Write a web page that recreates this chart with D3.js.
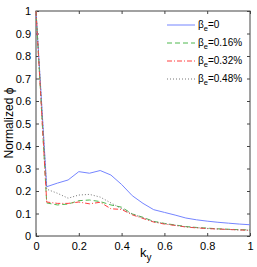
<!DOCTYPE html>
<html lang="en">
<head>
<meta charset="UTF-8">
<title>Normalized phi vs ky</title>
<script src="https://d3js.org/d3.v7.min.js"></script>
<style>
  body { margin: 0; background: #fff; }
  text { font-family: Arial, "Liberation Sans", sans-serif; }
</style>
</head>
<body>
<svg id="chart" width="257" height="267"></svg>
<script>
// ky values shared by all series
const ky = [0, 0.05, 0.1, 0.15, 0.2, 0.25, 0.3, 0.35, 0.4, 0.45, 0.5, 0.55, 0.6, 0.65, 0.7, 0.75, 0.8, 0.85, 0.9, 0.95, 1];

const beta0   = [1, 0.219, 0.235, 0.249, 0.286, 0.279, 0.291, 0.271, 0.229, 0.179, 0.145, 0.117, 0.105, 0.093, 0.08, 0.072, 0.066, 0.061, 0.057, 0.053, 0.05];
const beta016 = [1, 0.147, 0.138, 0.142, 0.157, 0.16, 0.153, 0.138, 0.128, 0.098, 0.083, 0.065, 0.056, 0.049, 0.042, 0.038, 0.035, 0.032, 0.03, 0.028, 0.027];
const beta032 = [1, 0.151, 0.145, 0.145, 0.151, 0.143, 0.15, 0.121, 0.118, 0.094, 0.078, 0.062, 0.053, 0.047, 0.04, 0.036, 0.033, 0.031, 0.029, 0.027, 0.025];
const beta048 = [1, 0.208, 0.19, 0.168, 0.182, 0.185, 0.173, 0.147, 0.122, 0.097, 0.081, 0.064, 0.055, 0.048, 0.041, 0.037, 0.034, 0.031, 0.029, 0.027, 0.026];

const legendLabels = ["0", "0.16%", "0.32%", "0.48%"];
const xTicks = [0, 0.2, 0.4, 0.6, 0.8, 1];
const yTicks = [0, 0.1, 0.2, 0.3, 0.4, 0.5, 0.6, 0.7, 0.8, 0.9, 1];

const series = [
  { vals: beta0,   color: "#7585ff", dash: null,      width: 1 },
  { vals: beta016, color: "#4fb84f", dash: "5,3",     width: 1 },
  { vals: beta032, color: "#ff4040", dash: "5,2,1,2", width: 1 },
  { vals: beta048, color: "#777777", dash: "1,2",     width: 1 }
];

const svg = d3.select("#chart");
const mLeft = 36, mRight = 250, mTop = 11, mBottom = 236;

const x = d3.scaleLinear().domain([0, 1]).range([mLeft, mRight]);
const y = d3.scaleLinear().domain([0, 1]).range([mBottom, mTop]);

// frame
svg.append("rect")
  .attr("x", mLeft).attr("y", mTop)
  .attr("width", mRight - mLeft).attr("height", mBottom - mTop)
  .attr("fill", "none").attr("stroke", "#444").attr("stroke-width", 1);

// axes with inward ticks
const fmt = d => d === 0 || d === 1 ? String(d) : d3.format(".1f")(d);
const styleAxis = g => {
  g.select(".domain").remove();
  g.selectAll(".tick line").attr("stroke", "#444");
  g.selectAll(".tick text").attr("font-size", 11).attr("fill", "#000");
};
svg.append("g").attr("transform", `translate(0,${mBottom})`)
  .call(d3.axisBottom(x).tickValues(xTicks).tickFormat(fmt).tickSizeInner(-3).tickSizeOuter(0).tickPadding(6))
  .call(styleAxis);
svg.append("g").attr("transform", `translate(0,${mTop})`)
  .call(d3.axisTop(x).tickValues(xTicks).tickFormat("").tickSizeInner(-3).tickSizeOuter(0))
  .call(styleAxis);
svg.append("g").attr("transform", `translate(${mLeft},0)`)
  .call(d3.axisLeft(y).tickValues(yTicks).tickFormat(fmt).tickSizeInner(-3).tickSizeOuter(0).tickPadding(5))
  .call(styleAxis);
svg.append("g").attr("transform", `translate(${mRight},0)`)
  .call(d3.axisRight(y).tickValues(yTicks).tickFormat("").tickSizeInner(-3).tickSizeOuter(0))
  .call(styleAxis);

// lines
const line = d3.line().x((d, i) => x(ky[i])).y(d => y(d));
series.forEach(s => {
  svg.append("path")
    .datum(s.vals)
    .attr("d", line)
    .attr("fill", "none")
    .attr("stroke", s.color)
    .attr("stroke-width", s.width)
    .attr("stroke-dasharray", s.dash);
});

// legend
const leg = svg.append("g");
series.forEach((s, i) => {
  const ly = 25 + i * 18;
  leg.append("line")
    .attr("x1", 167).attr("x2", 195).attr("y1", ly).attr("y2", ly)
    .attr("stroke", s.color).attr("stroke-width", s.width)
    .attr("stroke-dasharray", s.dash);
  const t = leg.append("text").attr("x", 198).attr("y", ly + 3).attr("font-size", 10).attr("fill", "#000");
  t.append("tspan").text("β");
  t.append("tspan").attr("font-size", 7.5).attr("dy", 3).text("e");
  t.append("tspan").attr("dy", -3).text("=" + legendLabels[i]);
});

// axis labels
const xl = svg.append("text").attr("x", 140).attr("y", 257).attr("font-size", 13).attr("fill", "#000");
xl.append("tspan").text("k");
xl.append("tspan").attr("font-size", 10).attr("dy", 4).text("y");

svg.append("text")
  .attr("transform", "translate(13,123) rotate(-90)")
  .attr("text-anchor", "middle")
  .attr("font-size", 12).attr("fill", "#000")
  .text("Normalized ϕ");
</script>
</body>
</html>
